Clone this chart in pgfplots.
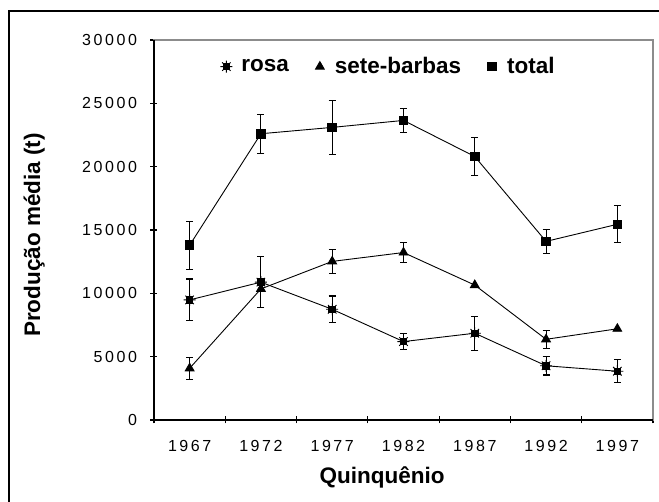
\documentclass[border=0pt]{standalone}
\usepackage{fontspec}
\setmainfont{Liberation Sans}
\newfontfamily\tickfont[LetterSpace=16]{Liberation Sans}
\usepackage{pgfplots}
\usepackage{pgfplotstable}
\pgfplotsset{compat=1.18}

\pgfdeclareplotmark{starsq}{%
  \pgfpathrectangle{\pgfqpoint{-0.62\pgfplotmarksize}{-0.62\pgfplotmarksize}}{\pgfqpoint{1.24\pgfplotmarksize}{1.24\pgfplotmarksize}}%
  \pgfusepathqfill
  \pgfpathmoveto{\pgfqpoint{-\pgfplotmarksize}{0pt}}\pgfpathlineto{\pgfqpoint{\pgfplotmarksize}{0pt}}%
  \pgfpathmoveto{\pgfqpoint{0pt}{-\pgfplotmarksize}}\pgfpathlineto{\pgfqpoint{0pt}{\pgfplotmarksize}}%
  \pgfpathmoveto{\pgfqpoint{-0.707\pgfplotmarksize}{-0.707\pgfplotmarksize}}\pgfpathlineto{\pgfqpoint{0.707\pgfplotmarksize}{0.707\pgfplotmarksize}}%
  \pgfpathmoveto{\pgfqpoint{-0.707\pgfplotmarksize}{0.707\pgfplotmarksize}}\pgfpathlineto{\pgfqpoint{0.707\pgfplotmarksize}{-0.707\pgfplotmarksize}}%
  \pgfusepathqstroke
}

\pgfplotstableread{
x y e
0 13800 1900
1 22600 1550
2 23100 2150
3 23650 950
4 20800 1500
5 14100 950
6 15450 1450
}\total

\pgfplotstableread{
x y
0 4080
1 10350
2 12520
3 13220
4 10650
5 6370
6 7200
}\sete

\pgfplotstableread{
x y e
0 4080 870
2 12520 950
3 13220 800
5 6370 700
}\seteerr

\pgfplotstableread{
x y e
0 9480 1650
1 10880 2000
2 8740 1050
3 6190 650
4 6850 1350
5 4280 730
6 3850 900
}\rosa

\begin{document}
\begin{tikzpicture}
\useasboundingbox (-154pt,-82pt) rectangle (505pt,420pt);
\draw[line width=1.3pt] (-145pt,-95pt) -- (-145pt,409pt) -- (515pt,409pt);
\begin{axis}[
  at={(0pt,0pt)}, anchor=south west,
  scale only axis, width=499pt, height=380pt,
  xmin=-0.5, xmax=6.5, ymin=0, ymax=30000,
  clip=false,
  /pgf/number format/assume math mode=true,
  /pgf/number format/1000 sep={},
  scaled y ticks=false,
  axis line style={draw=black!45, line width=1.5pt},
  tick align=center, major tick length=7pt,
  tick style={black, line width=1.2pt},
  xtick={-0.5,0.5,...,6.5}, xticklabels={},
  extra x ticks={0,1,2,3,4,5,6},
  extra x tick labels={1967,1972,1977,1982,1987,1992,1997},
  extra x tick style={major tick length=0pt},
  ytick={0,5000,...,30000},
  xtick pos=bottom, ytick pos=left,
  ticklabel style={font=\tickfont\fontsize{16}{19}\selectfont},
  xticklabel style={yshift=-17pt},
  yticklabel style={xshift=-10pt},
  ylabel={Produção média (t)},
  xlabel={Quinquênio},
  label style={font=\fontsize{22.5}{27}\selectfont\bfseries},
  ylabel style={at={(axis description cs:-0.24,0.487)}, anchor=center},
  xlabel style={at={(axis description cs:0.457,-0.152)}, anchor=center},
  every axis plot/.append style={black, line width=0.9pt},
  legend columns=3,
  reverse legend,
  legend style={at={(axis description cs:0.47,0.93)}, anchor=center,
    draw=none, fill=none, font=\fontsize{22.5}{27}\selectfont\bfseries,
    /tikz/every even column/.append style={column sep=24pt}},
  legend image code/.code={\draw[#1, only marks] plot coordinates {(0pt,0pt)};\path[draw=none] (-5pt,0pt) -- (13pt,0pt);},
]
\draw[black, line width=1.5pt] (rel axis cs:0,1) -- (rel axis cs:0,0) -- (rel axis cs:1,0);

\addplot[mark=square*, mark size=4.3pt, mark options={solid, fill=black},
  error bars/.cd, y dir=both, y explicit,
  error mark options={rotate=90, mark size=3.5pt, line width=1.1pt, black},
  error bar style={line width=1.1pt}]
  table[x=x, y=y, y error=e] {\total};
\addlegendentry{total}

\addplot[mark=triangle*, mark size=5pt, mark options={solid, fill=black}]
  table[x=x, y=y] {\sete};
\addlegendentry{sete-barbas}

\addplot[draw=none, mark=none, forget plot,
  error bars/.cd, y dir=both, y explicit,
  error mark options={rotate=90, mark size=3.5pt, line width=1.1pt, black},
  error bar style={line width=1.1pt, solid}]
  table[x=x, y=y, y error=e] {\seteerr};

\addplot[mark=starsq, mark size=6pt, mark options={solid, fill=black, line width=0.9pt},
  error bars/.cd, y dir=both, y explicit,
  error mark options={rotate=90, mark size=3.5pt, line width=1.1pt, black},
  error bar style={line width=1.1pt}]
  table[x=x, y=y, y error=e] {\rosa};
\addlegendentry{rosa}
\end{axis}
\end{tikzpicture}
\end{document}
